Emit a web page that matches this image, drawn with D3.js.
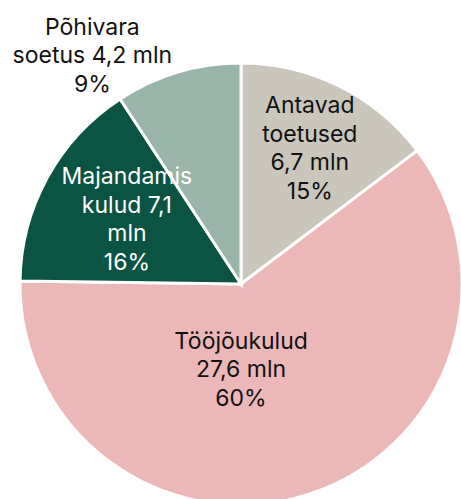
<!DOCTYPE html>
<html>
<head>
<meta charset="utf-8">
<script src="https://cdn.jsdelivr.net/npm/d3@7"></script>
<style>
  html, body { margin: 0; padding: 0; background: #fff; }
  svg { display: block; }
</style>
</head>
<body>
<svg id="chart" width="461" height="499"></svg>
<script>
// Expense structure, million euros
const categories = ["Antavad toetused", "Tööjõukulud", "Majandamiskulud", "Põhivara soetus"];
const values = [6.7, 27.6, 7.1, 4.2];
const percents = [15, 60, 16, 9];
const labelLines = [
  ["Antavad", "toetused", "6,7 mln", "15%"],
  ["Tööjõukulud", "27,6 mln", "60%"],
  ["Majandamis", "kulud 7,1", "mln", "16%"],
  ["Põhivara", "soetus 4,2 mln", "9%"]
];
const colors = ["#cac6bb", "#ebb8b7", "#0b5443", "#99b4a9"];
const textColors = ["#111", "#111", "#fff", "#111"];

// Label anchors in polar form: angle (deg, clockwise from 12 o'clock), radius as share of R
const labelPolar = [
  { angle: 26.8, r: 0.69 },
  { angle: 180, r: 0.385 },
  { angle: 299.8, r: 0.595 },
  { angle: 327, r: 1.235 }
];

const width = 461, height = 499;
const cx = 241, cy = 284, R = 221;
const fontSize = 23, lineH = 28.5;

const svg = d3.select("#chart");
const g = svg.append("g").attr("transform", `translate(${cx},${cy})`);

const data = categories.map((c, i) => ({ name: c, value: values[i], i }));
const pie = d3.pie().sort(null).value(d => d.value).startAngle(0).endAngle(2 * Math.PI);
const arc = d3.arc().innerRadius(0).outerRadius(R);

g.selectAll("path.slice")
  .data(pie(data))
  .join("path")
  .attr("class", "slice")
  .attr("d", arc)
  .attr("fill", d => colors[d.data.i])
  .attr("stroke", "#fff")
  .attr("stroke-width", 3)
  .attr("stroke-linejoin", "miter");

const labels = g.selectAll("text.lbl")
  .data(data)
  .join("text")
  .attr("class", "lbl")
  .attr("text-anchor", "middle")
  .attr("font-family", "Inter, 'Noto Sans', sans-serif")
  .attr("font-size", fontSize)
  .attr("fill", d => textColors[d.i])
  .attr("transform", d => {
    const p = labelPolar[d.i];
    const a = p.angle * Math.PI / 180;
    const x = Math.sin(a) * p.r * R;
    const y = -Math.cos(a) * p.r * R;
    return `translate(${x},${y})`;
  });

labels.each(function(d) {
  const lines = labelLines[d.i];
  const n = lines.length;
  const t = d3.select(this);
  lines.forEach((ln, k) => {
    t.append("tspan")
      .attr("x", 0)
      .attr("y", (k - (n - 1) / 2) * lineH)
      .attr("dy", "0.36em")
      .text(ln);
  });
});
</script>
</body>
</html>
